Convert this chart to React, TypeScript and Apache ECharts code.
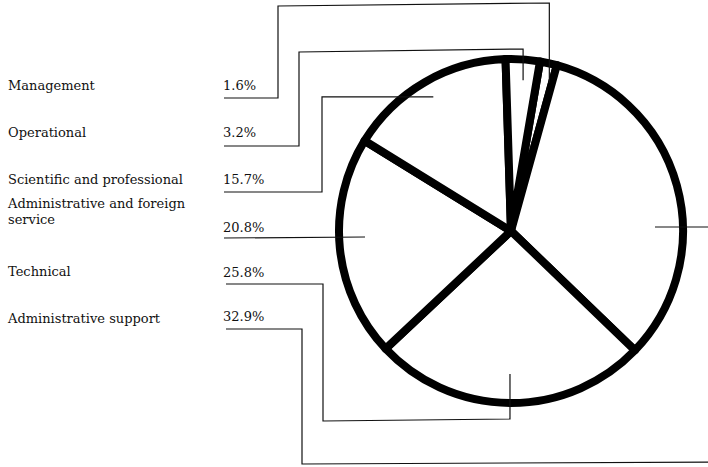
import React, { useEffect, useRef } from "react";
import * as echarts from "echarts";

// ---- Data ----
const categories = [
  "Management",
  "Operational",
  "Scientific and professional",
  "Administrative and foreign\nservice",
  "Technical",
  "Administrative support",
];
const shares = [1.6, 3.2, 15.7, 20.8, 25.8, 32.9];
const shareLabels = ["1.6%", "3.2%", "15.7%", "20.8%", "25.8%", "32.9%"];
// Clockwise drawing order around the pie, starting with Management
const pieOrder = [0, 5, 4, 3, 2, 1];

// ---- Layout ----
const W = 708;
const H = 467;
const CX = 511;
const CY = 231;
const R = 172;
const START_CW = 9.7; // degrees clockwise from 12 o'clock where Management begins
const labelY = [85, 132, 179, 203, 271, 318];
const pctY = [85, 132, 179, 227, 272, 316];
const underY = [98, 146, 192, 238, 284, 329];

function midAngles(): number[] {
  const mids: number[] = new Array(shares.length).fill(0);
  let acc = START_CW;
  for (const idx of pieOrder) {
    const sweep = (shares[idx] / 100) * 360;
    mids[idx] = acc + sweep / 2;
    acc += sweep;
  }
  return mids;
}

function pt(angCW: number, r: number): [number, number] {
  const a = (angCW * Math.PI) / 180;
  return [CX + r * Math.sin(a), CY - r * Math.cos(a)];
}

export default function App() {
  const ref = useRef<HTMLDivElement>(null);
  useEffect(() => {
    document.body.style.margin = "0";
    if (!ref.current) return;
    const chart = echarts.init(ref.current, null, { renderer: "svg" });
    const mids = midAngles();

    const lineStyle = { stroke: "#111", lineWidth: 1.2, fill: null as any };
    const leaders: any[] = [];
    // Management
    {
      const [x] = pt(mids[0], R + 4);
      const yIn = pt(mids[0], 152)[1];
      leaders.push([[224, underY[0]], [278, underY[0]], [278, 6], [x, 3], [x, yIn]]);
    }
    // Operational
    {
      const [x] = pt(mids[1], R + 4);
      const yIn = pt(mids[1], 151)[1];
      leaders.push([[224, underY[1]], [299, underY[1]], [299, 52], [x, 49], [x, yIn]]);
    }
    // Scientific and professional
    {
      const [x, y] = pt(mids[2], 155);
      leaders.push([[224, underY[2]], [322, underY[2]], [322, y], [x, y]]);
    }
    // Administrative and foreign service
    leaders.push([[224, underY[3]], [365, 237]]);
    // Technical
    {
      const [x] = pt(mids[4], R);
      const yIn = CY + 143;
      leaders.push([[226, underY[4]], [323, underY[4]], [323, 421], [x, 419], [x, yIn]]);
    }
    // Administrative support
    leaders.push([[226, underY[5]], [302, underY[5]], [302, 464], [720, 462]]);
    leaders.push([[655, 227], [720, 227]]);

    const textStyle = {
      fontFamily: "DejaVu Serif",
      fontSize: 13,
      fill: "#111",
    };

    const graphics: any[] = [];
    categories.forEach((c, i) => {
      if (i === 3) {
        const parts = c.split("\n");
        graphics.push({
          type: "text", x: 8, y: labelY[i], z: 100,
          style: { ...textStyle, text: parts[0], textVerticalAlign: "middle" },
        });
        graphics.push({
          type: "text", x: 8, y: 219, z: 100,
          style: { ...textStyle, text: parts[1], textVerticalAlign: "middle" },
        });
      } else {
        graphics.push({
          type: "text", x: 8, y: labelY[i], z: 100,
          style: { ...textStyle, text: c, textVerticalAlign: "middle" },
        });
      }
      graphics.push({
        type: "text", x: 223, y: pctY[i], z: 100,
        style: { ...textStyle, text: shareLabels[i], textVerticalAlign: "middle" },
      });
    });
    leaders.forEach((pts) => {
      graphics.push({
        type: "polyline", z: 100, silent: true,
        shape: { points: pts },
        style: lineStyle,
      });
    });

    chart.setOption({
      animation: false,
      backgroundColor: "#fff",
      series: [
        {
          type: "pie",
          center: [CX, CY],
          radius: [0, R],
          startAngle: 90 - START_CW,
          clockwise: true,
          silent: true,
          label: { show: false },
          labelLine: { show: false },
          emphasis: { disabled: true },
          itemStyle: {
            color: "#fff",
            borderColor: "#000",
            borderWidth: 8,
            borderJoin: "round",
          },
          data: pieOrder.map((i) => ({ name: categories[i], value: shares[i] })),
        },
      ],
      graphic: graphics,
    });
    return () => chart.dispose();
  }, []);
  return <div ref={ref} style={{ width: W, height: H }} />;
}
